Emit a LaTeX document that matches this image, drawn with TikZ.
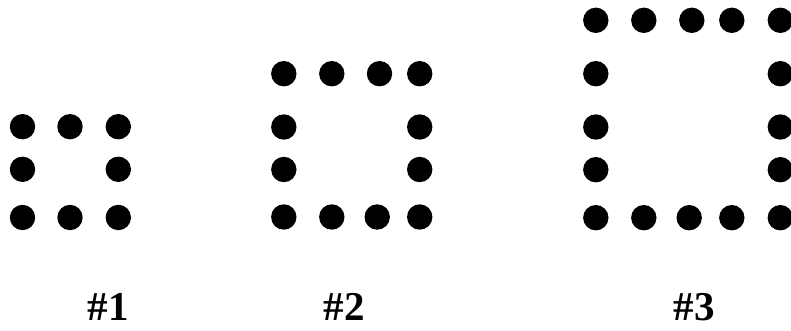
\documentclass[tikz,border=0pt]{standalone}
\usepackage{fontspec}
\setmainfont{Liberation Serif}
\begin{document}
\begin{tikzpicture}[x=1pt, y=-1pt,
        dot/.style={circle, fill=black, inner sep=0pt, minimum size=25.4pt},
        figlabel/.style={anchor=base, inner sep=0pt, font=\fontsize{41}{48}\bfseries\selectfont}]
        \useasboundingbox (0,0) rectangle (791,331);
        % figure 1
        \foreach \n/\x/\y in {a/22.5/126.7, b/70/126.7, c/118.3/126.7, d/22.5/169.3, e/118.3/169.3,
                              f/22.5/217.5, g/70/217.5, h/118.3/217.5}
            \node[dot] (one-\n) at (\x,\y) {};
        % figure 2
        \foreach \n/\x/\y in {a/283.8/73.7, b/331.8/73.7, c/379.5/73.7, d/419.7/73.7,
                              e/283.8/127, f/419.7/127, g/283.8/169.5, h/419.7/169.5,
                              i/283.8/217, j/331.8/217, k/377.2/217, l/419.7/217}
            \node[dot] (two-\n) at (\x,\y) {};
        % figure 3
        \foreach \n/\x/\y in {a/595.8/20.3, b/643.8/20.3, c/691.8/20.3, d/731.8/20.3, e/780.3/20.3,
                              f/595.8/73.7, g/780.3/73.7, h/595.8/127, i/780.3/127,
                              j/595.8/169.7, k/780.3/169.7,
                              l/595.8/217.7, m/643.8/217.7, n/689.2/217.7, o/731.8/217.7, p/780.3/217.7}
            \node[dot] (three-\n) at (\x,\y) {};
        \node[figlabel] (lab1) at (108,320) {\#1};
        \node[figlabel] (lab2) at (344,320) {\#2};
        \node[figlabel] (lab3) at (694,320) {\#3};
    \end{tikzpicture}
\end{document}
